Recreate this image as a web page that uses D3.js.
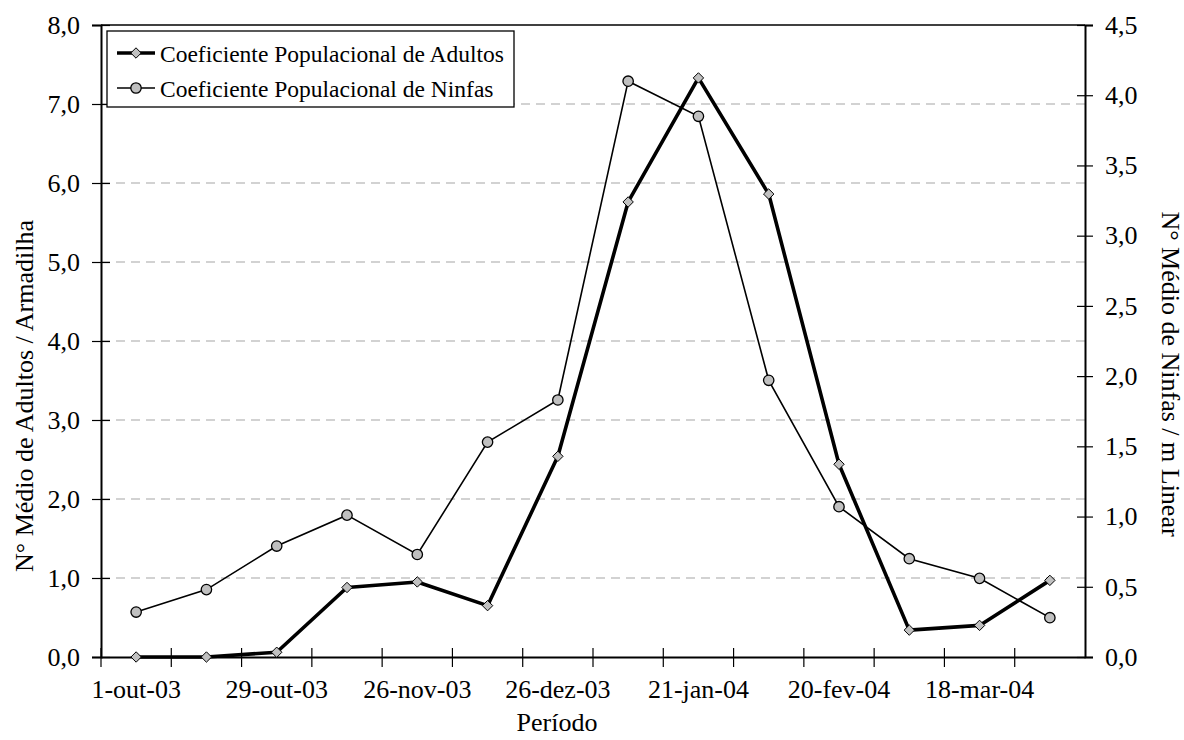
<!DOCTYPE html>
<html>
<head>
<meta charset="utf-8">
<script src="https://cdn.jsdelivr.net/npm/d3@7"></script>
<style>
  html, body { margin: 0; padding: 0; background: #fff; }
  svg text { font-family: "Liberation Serif", "Times New Roman", serif; fill: #000; }
</style>
</head>
<body>
<svg id="chart" width="1184" height="740"></svg>
<script>
// ---- data ----
const periods = ["1-out-03","15-out-03","29-out-03","12-nov-03","26-nov-03","10-dez-03","26-dez-03",
                 "7-jan-04","21-jan-04","4-fev-04","20-fev-04","4-mar-04","18-mar-04","1-abr-04"];
const shownLabels = ["1-out-03","29-out-03","26-nov-03","26-dez-03","21-jan-04","20-fev-04","18-mar-04"];
const adultos = [0.0, 0.0, 0.06, 0.88, 0.95, 0.65, 2.54, 5.76, 7.33, 5.86, 2.44, 0.34, 0.40, 0.97];
const ninfas  = [0.32, 0.48, 0.79, 1.01, 0.73, 1.53, 1.83, 4.10, 3.85, 1.97, 1.07, 0.70, 0.56, 0.28];
const leftTicks  = [0,1,2,3,4,5,6,7,8];
const rightTicks = [0,0.5,1,1.5,2,2.5,3,3.5,4,4.5];
const seriesNames = ["Coeficiente Populacional de Adultos", "Coeficiente Populacional de Ninfas"];
const leftTitle = "N° Médio de Adultos / Armadilha";
const rightTitle = "N° Médio de Ninfas / m Linear";
const xTitle = "Período";

// ---- layout ----
const L = 101, R = 1085, T = 25, B = 657;
const svg = d3.select("#chart");
const fs = 26;

const x = d3.scaleBand().domain(periods).range([L, R]).padding(0);
const yL = d3.scaleLinear().domain([0, 8]).range([B, T]);
const yR = d3.scaleLinear().domain([0, 4.5]).range([B, T]);
const fmt = d => d3.format(".1f")(d).replace(".", ",");

// gridlines
svg.append("g").selectAll("line").data(leftTicks.filter(d => d > 0 && d < 8)).join("line")
  .attr("x1", L).attr("x2", R).attr("y1", d => yL(d)).attr("y2", d => yL(d))
  .attr("stroke", "#a6a6a6").attr("stroke-width", 1.2).attr("stroke-dasharray", "9,6");

// plot border top
svg.append("line").attr("x1", L).attr("x2", R).attr("y1", T).attr("y2", T)
  .attr("stroke", "#000").attr("stroke-width", 1.5);

// left axis
const gL = svg.append("g").attr("transform", `translate(${L},0)`)
  .call(d3.axisLeft(yL).tickValues(leftTicks).tickFormat(fmt).tickSize(9).tickPadding(12));
gL.select(".domain").attr("stroke", "#000").attr("stroke-width", 2);
gL.selectAll(".tick line").attr("x1", 9).attr("stroke", "#000").attr("stroke-width", 1.2);
gL.selectAll(".tick text").attr("font-size", fs).attr("font-family", "Liberation Serif");

// right axis
const gR = svg.append("g").attr("transform", `translate(${R},0)`)
  .call(d3.axisRight(yR).tickValues(rightTicks).tickFormat(fmt).tickSize(8).tickPadding(12));
gR.select(".domain").attr("stroke", "#000").attr("stroke-width", 2);
gR.selectAll(".tick line").attr("x1", -8).attr("stroke", "#000").attr("stroke-width", 1.2);
gR.selectAll(".tick text").attr("font-size", fs).attr("font-family", "Liberation Serif");

// bottom axis (labels at category centres)
const gB = svg.append("g").attr("transform", `translate(0,${B})`)
  .call(d3.axisBottom(x).tickSize(0).tickPadding(23)
    .tickFormat(d => shownLabels.includes(d) ? d : ""));
gB.select(".domain").attr("stroke", "#000").attr("stroke-width", 2);
gB.selectAll(".tick text").attr("font-size", fs).attr("font-family", "Liberation Serif");
// tick marks at category boundaries
gB.append("g").selectAll("line").data(periods).join("line")
  .attr("x1", d => x(d)).attr("x2", d => x(d)).attr("y1", -9).attr("y2", 10)
  .attr("stroke", "#000").attr("stroke-width", 1.2);

// series
const cx = d => x(d) + x.bandwidth() / 2;
const lineN = d3.line().x((d, i) => cx(periods[i])).y(d => yR(d));
const lineA = d3.line().x((d, i) => cx(periods[i])).y(d => yL(d));

svg.append("path").datum(ninfas).attr("d", lineN)
  .attr("fill", "none").attr("stroke", "#000").attr("stroke-width", 1.6);
svg.append("g").selectAll("circle").data(ninfas).join("circle")
  .attr("cx", (d, i) => cx(periods[i])).attr("cy", d => yR(d)).attr("r", 5.2)
  .attr("fill", "#c0c0c0").attr("stroke", "#000").attr("stroke-width", 1.3);

svg.append("path").datum(adultos).attr("d", lineA)
  .attr("fill", "none").attr("stroke", "#000").attr("stroke-width", 3.6).attr("stroke-linejoin", "round");
const diamond = (px, py, s) => `M${px},${py - s}L${px + s},${py}L${px},${py + s}L${px - s},${py}Z`;
svg.append("g").selectAll("path").data(adultos).join("path")
  .attr("d", (d, i) => diamond(cx(periods[i]), yL(d), 5.2))
  .attr("fill", "#c0c0c0").attr("stroke", "#000").attr("stroke-width", 1);

// legend
const lg = svg.append("g");
lg.append("rect").attr("x", 107).attr("y", 31).attr("width", 407).attr("height", 76)
  .attr("fill", "#fff").attr("stroke", "#000").attr("stroke-width", 1.3);
const rows = [53, 88];
lg.append("line").attr("x1", 117).attr("x2", 155).attr("y1", rows[0]).attr("y2", rows[0])
  .attr("stroke", "#000").attr("stroke-width", 3.6);
lg.append("path").attr("d", diamond(136, rows[0], 5.2)).attr("fill", "#c0c0c0").attr("stroke", "#000");
lg.append("line").attr("x1", 117).attr("x2", 155).attr("y1", rows[1]).attr("y2", rows[1])
  .attr("stroke", "#000").attr("stroke-width", 1.6);
lg.append("circle").attr("cx", 136).attr("cy", rows[1]).attr("r", 5.2)
  .attr("fill", "#c0c0c0").attr("stroke", "#000").attr("stroke-width", 1.3);
lg.selectAll("text").data(seriesNames).join("text")
  .attr("x", 160).attr("y", (d, i) => rows[i] + 8.5).attr("font-size", 23.5).text(d => d);

// axis titles
svg.append("text").attr("transform", `translate(33,396) rotate(-90)`)
  .attr("text-anchor", "middle").attr("font-size", fs).text(leftTitle);
svg.append("text").attr("transform", `translate(1162,374) rotate(90)`)
  .attr("text-anchor", "middle").attr("font-size", fs).text(rightTitle);
svg.append("text").attr("x", 557).attr("y", 731)
  .attr("text-anchor", "middle").attr("font-size", fs).text(xTitle);
</script>
</body>
</html>
